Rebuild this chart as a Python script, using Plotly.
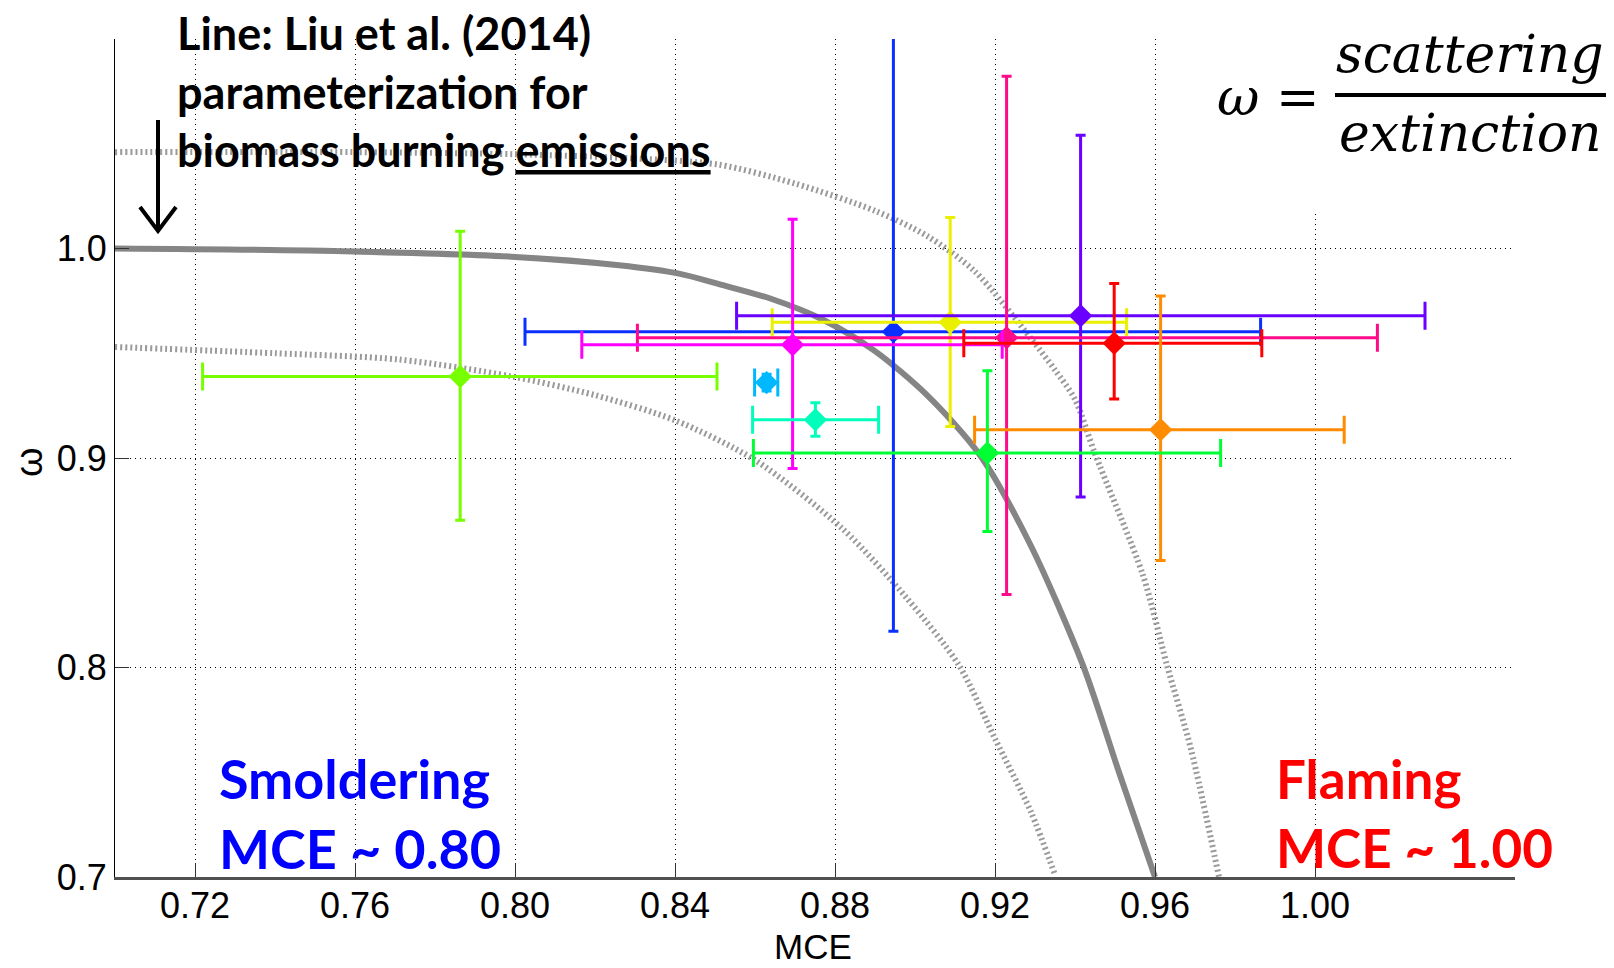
import plotly.graph_objects as go

# ---------------- data ----------------
mce = [0.7863, 0.8946, 0.9088, 0.9414, 0.9229, 0.8694, 0.9498, 0.9614, 0.9181, 0.8629, 0.8751]
mce_err_minus = [0.0644, 0.0921, 0.0445, 0.0860, 0.0923, 0.0527, 0.0376, 0.0465, 0.0585, 0.0030, 0.0157]
mce_err_plus = [0.0642, 0.0918, 0.0441, 0.0861, 0.0927, 0.0524, 0.0369, 0.0459, 0.0583, 0.0028, 0.0158]
ssa = [0.9389, 0.9603, 0.9648, 0.9679, 0.9574, 0.9540, 0.9548, 0.9135, 0.9024, 0.9360, 0.9182]
ssa_err_minus = [0.0686, 0.1430, 0.0498, 0.0865, 0.1225, 0.0590, 0.0266, 0.0624, 0.0375, 0.0040, 0.0078]
ssa_err_plus = [0.0693, 0.1430, 0.0500, 0.0861, 0.1248, 0.0600, 0.0285, 0.0638, 0.0393, 0.0040, 0.0082]
point_colors = ["#77ff00", "#0a30ff", "#eaf000", "#6a00ff", "#ff0a88", "#ff00ff",
                "#ff0000", "#ff8c00", "#00ff33", "#00b8ff", "#00ffbb"]

# Liu et al. (2014) parameterization line
liu_mce = [0.700, 0.748, 0.800, 0.826, 0.841, 0.851, 0.864, 0.877, 0.890, 0.903, 0.916, 0.929, 0.942, 0.951, 0.960]
liu_ssa = [1.000, 0.999, 0.996, 0.992, 0.988, 0.983, 0.976, 0.966, 0.951, 0.930, 0.902, 0.858, 0.801, 0.750, 0.700]
# upper bound (dotted)
up_mce = [0.700, 0.760, 0.800, 0.830, 0.851, 0.870, 0.890, 0.903, 0.915, 0.929, 0.935, 0.940, 0.945, 0.957, 0.963, 0.969, 0.976]
up_ssa = [1.046, 1.046, 1.045, 1.043, 1.040, 1.031, 1.018, 1.006, 0.989, 0.957, 0.942, 0.928, 0.902, 0.844, 0.801, 0.761, 0.700]
# lower bound (dotted)
lo_mce = [0.700, 0.740, 0.771, 0.799, 0.820, 0.840, 0.860, 0.882, 0.898, 0.911, 0.920, 0.929, 0.935]
lo_ssa = [0.953, 0.950, 0.947, 0.939, 0.930, 0.918, 0.899, 0.866, 0.833, 0.801, 0.766, 0.731, 0.701]

x_tickvals = [0.72, 0.76, 0.80, 0.84, 0.88, 0.92, 0.96, 1.00]
x_ticktext = ["0.72", "0.76", "0.80", "0.84", "0.88", "0.92", "0.96", "1.00"]
y_tickvals = [0.7, 0.8, 0.9, 1.0]
y_ticktext = ["0.7", "0.8", "0.9", "1.0"]

# ---------------- figure ----------------
W, H = 1614, 968
ML, MR, MT, MB = 115, 99, 39, 91
PW, PH = W - ML - MR, H - MT - MB


def px(X):
    return (X - ML) / PW


def py(Y):
    return (H - MB - Y) / PH


fig = go.Figure()

fig.add_trace(go.Scatter(x=up_mce, y=up_ssa, mode="lines", line_shape="spline",
                         line=dict(color="#9a9a9a", width=6, dash="2px,3px", smoothing=0.8), hoverinfo="skip"))
fig.add_trace(go.Scatter(x=lo_mce, y=lo_ssa, mode="lines", line_shape="spline",
                         line=dict(color="#9a9a9a", width=6, dash="2px,3px", smoothing=0.8), hoverinfo="skip"))
fig.add_trace(go.Scatter(x=liu_mce, y=liu_ssa, mode="lines", line_shape="spline",
                         line=dict(color="#858585", width=6, smoothing=0.8), hoverinfo="skip"))

for i in range(len(mce)):
    c = point_colors[i]
    fig.add_trace(go.Scatter(
        x=[mce[i]], y=[ssa[i]], mode="markers",
        marker=dict(symbol="diamond", size=18, color=c, line=dict(width=0)),
        error_x=dict(type="data", symmetric=False, array=[mce_err_plus[i]],
                     arrayminus=[mce_err_minus[i]], color=c, thickness=3, width=14),
        error_y=dict(type="data", symmetric=False, array=[ssa_err_plus[i]],
                     arrayminus=[ssa_err_minus[i]], color=c, thickness=3, width=5),
    ))

sans = "Liberation Sans Narrow, Arial Narrow, Liberation Sans, Arial"
tick_font = dict(family=sans, size=36, color="black")

fig.update_layout(
    width=W, height=H, showlegend=False,
    paper_bgcolor="white", plot_bgcolor="white",
    margin=dict(l=ML, r=MR, t=MT, b=MB, autoexpand=False),
    xaxis=dict(range=[0.70, 1.05], tickvals=x_tickvals, ticktext=x_ticktext,
               showgrid=True, gridcolor="black", gridwidth=1, griddash="1px,4px",
               zeroline=False, showline=True, linecolor="#505050", linewidth=3,
               ticks="inside", ticklen=14, tickcolor="#333", tickfont=tick_font,
               ticklabelstandoff=-5, automargin=False),
    yaxis=dict(range=[0.70, 1.10], tickvals=y_tickvals, ticktext=y_ticktext,
               showgrid=True, gridcolor="black", gridwidth=1, griddash="1px,4px",
               zeroline=False, showline=True, linecolor="black", linewidth=1,
               ticks="inside", ticklen=14, tickcolor="#333", tickfont=tick_font,
               automargin=False),
)

bold_font = "Lato, Carlito, Calibri, Open Sans, sans-serif"
serif_font = "DejaVu Serif, Liberation Serif, serif"

# white box behind the equation (covers gridlines there)
fig.add_shape(type="rect", xref="paper", yref="paper", x0=px(1200), x1=px(1614), y0=py(212), y1=py(0),
              fillcolor="white", line=dict(width=0), layer="above")

annotations = [
    # axis titles
    dict(text="MCE", x=px(813), y=py(946), xanchor="center", yanchor="middle",
         font=dict(family=sans, size=35, color="black")),
    dict(text="ω", x=px(29), y=py(462), xanchor="center", yanchor="middle", textangle=-90,
         font=dict(family=sans, size=38, color="black")),
    # labels
    dict(text="<b>Line: Liu et al. (2014)<br>parameterization for<br>biomass burning <u>emissions</u></b>",
         x=px(175), y=py(4), xanchor="left", yanchor="top", align="left",
         font=dict(family=bold_font, size=45, color="black")),
    dict(text="<b>Smoldering<br>MCE ~ 0.80</b>", x=px(217), y=py(813), xanchor="left", yanchor="middle",
         align="left", font=dict(family=bold_font, size=54, color="#0000ff")),
    dict(text="<b>Flaming<br>MCE ~ 1.00</b>", x=px(1274), y=py(813), xanchor="left", yanchor="middle",
         align="left", font=dict(family=bold_font, size=53, color="#ff0000")),
    dict(text="<i>ω</i> =", x=px(1322), y=py(97), xanchor="right", yanchor="middle",
         font=dict(family=serif_font, size=52, color="black")),
    dict(text="<i>scattering</i>", x=px(1470), y=py(54), xanchor="center", yanchor="middle",
         font=dict(family=serif_font, size=52, color="black")),
    dict(text="<i>extinction</i>", x=px(1470), y=py(133), xanchor="center", yanchor="middle",
         font=dict(family=serif_font, size=52, color="black")),
]
for a in annotations:
    fig.add_annotation(xref="paper", yref="paper", showarrow=False, **a)

# fraction bar
fig.add_shape(type="line", xref="paper", yref="paper", x0=px(1335), x1=px(1606), y0=py(95), y1=py(95),
              line=dict(color="black", width=4), layer="above")
# arrow
fig.add_shape(type="path", xref="paper", yref="paper",
              path=f"M {px(158)} {py(120)} L {px(158)} {py(231)} M {px(140)} {py(207)} L {px(158)} {py(231)} L {px(176)} {py(207)}",
              line=dict(color="black", width=4), layer="above")

fig.write_html("out.html", config={"displayModeBar": False},
               post_script="document.body.style.margin='0px';document.body.style.overflow='hidden';")
